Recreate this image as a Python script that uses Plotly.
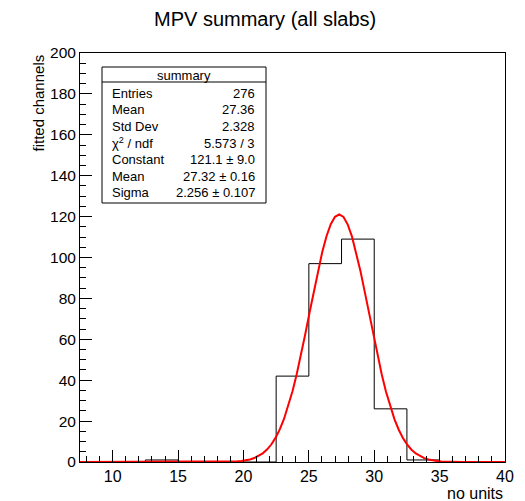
import numpy as np
import plotly.graph_objects as go

# ---- data ----
bin_edges = [7.5, 10, 12.5, 15, 17.5, 20, 22.5, 25, 27.5, 30, 32.5, 35, 37.5, 40]
bin_counts = [0, 0, 1, 0, 0, 0, 42, 97, 109, 26, 1, 0, 0]
fit_constant = 121.1
fit_mean = 27.32
fit_sigma = 2.256
stats_labels = ["Entries", "Mean", "Std Dev", "χ<sup>2</sup> / ndf", "Constant", "Mean", "Sigma"]
stats_values = ["276", "27.36", "2.328", "5.573 / 3", "121.1 ± 9.0", "27.32 ± 0.16", "2.256 ± 0.107"]

W, H = 525, 501
L, R, T, B = 80, 505, 53, 462
FONT = "Liberation Sans, Arial, Helvetica, sans-serif"

def px(x):
    return (x - L) / (R - L)

def py(y):
    return (B - y) / (B - T)

fig = go.Figure()

# histogram outline
hx = list(bin_edges)
hy = list(bin_counts) + [bin_counts[-1]]
fig.add_trace(go.Scatter(x=hx, y=hy, mode="lines", line=dict(color="black", width=1, shape="hv"),
                         hoverinfo="skip", showlegend=False))

# gaussian fit function (ROOT default 100 points)
fx = np.linspace(bin_edges[0], bin_edges[-1], 101)
fy = fit_constant * np.exp(-0.5 * ((fx - fit_mean) / fit_sigma) ** 2)
fig.add_trace(go.Scatter(x=fx, y=fy, mode="lines", line=dict(color="#ff0000", width=2),
                         hoverinfo="skip", showlegend=False))

axis_common = dict(showgrid=False, zeroline=False, showline=True, linecolor="black", linewidth=1,
                   mirror=True, ticks="inside", tickcolor="black", ticklen=12, tickwidth=1,
                   tickfont=dict(family=FONT, size=16, color="black"))

fig.update_xaxes(range=[bin_edges[0], bin_edges[-1]], tick0=10, dtick=5,
                 minor=dict(ticks="inside", ticklen=6, dtick=1, tick0=0, tickcolor="black", showgrid=False),
                 **axis_common)
fig.update_yaxes(range=[0, 200], tick0=0, dtick=20,
                 minor=dict(ticks="inside", ticklen=6, dtick=5, tick0=0, tickcolor="black", showgrid=False),
                 **axis_common)
fig.update_yaxes(tickfont=dict(family=FONT, size=15.5, color="black"))

annotations = []
# title
annotations.append(dict(text="MPV summary (all slabs)", xref="paper", yref="paper",
                        x=px(264.5), y=py(19), xanchor="center", yanchor="middle", showarrow=False,
                        font=dict(family=FONT, size=20, color="black")))
# x axis title
annotations.append(dict(text="no units", xref="paper", yref="paper", x=1, y=py(493),
                        xanchor="right", yanchor="middle", showarrow=False,
                        font=dict(family=FONT, size=16, color="black")))
# y axis title
annotations.append(dict(text="fitted channels", xref="paper", yref="paper", x=px(38), y=1,
                        xanchor="center", yanchor="top", textangle=-90, showarrow=False,
                        font=dict(family=FONT, size=15, color="black")))

# stats box
bx0, bx1, by0, by1, byh = 102, 266, 67, 203, 82
shapes = [
    dict(type="rect", xref="paper", yref="paper", x0=px(bx0), x1=px(bx1), y0=py(by1), y1=py(by0),
         line=dict(color="black", width=1), fillcolor="white", layer="above"),
    dict(type="line", xref="paper", yref="paper", x0=px(bx0), x1=px(bx1), y0=py(byh), y1=py(byh),
         line=dict(color="black", width=1), layer="above"),
]
annotations.append(dict(text="summary", xref="paper", yref="paper", x=px((bx0 + bx1) / 2), y=py(75),
                        xanchor="center", yanchor="middle", showarrow=False,
                        font=dict(family=FONT, size=13, color="black")))
for i, (lab, val) in enumerate(zip(stats_labels, stats_values)):
    yy = 93.3 + i * 16.6
    annotations.append(dict(text=lab, xref="paper", yref="paper", x=px(110), y=py(yy),
                            xanchor="left", yanchor="middle", showarrow=False,
                            font=dict(family=FONT, size=13, color="black")))
    annotations.append(dict(text=val, xref="paper", yref="paper", x=px(257), y=py(yy),
                            xanchor="right", yanchor="middle", showarrow=False,
                            font=dict(family=FONT, size=13, color="black")))

fig.update_layout(width=W, height=H, margin=dict(l=L, r=W - R, t=T, b=H - B),
                  paper_bgcolor="white", plot_bgcolor="white", showlegend=False,
                  annotations=annotations, shapes=shapes)

fig.write_html("out.html", config={"displayModeBar": False})
